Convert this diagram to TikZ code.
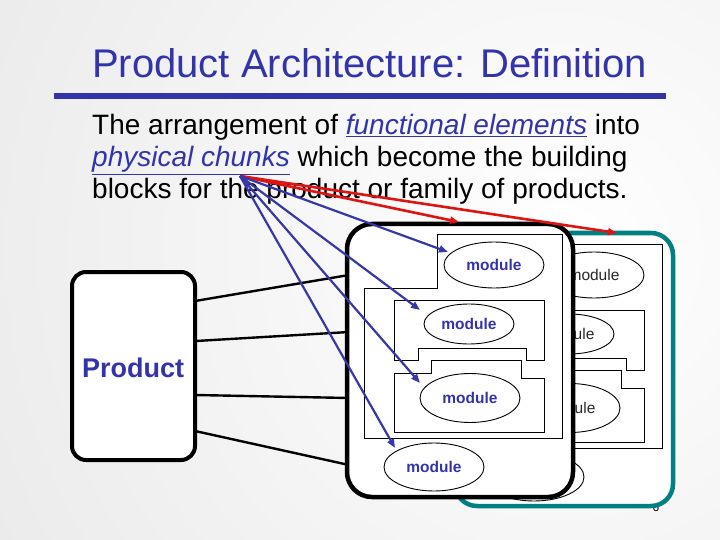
\documentclass[tikz,border=0pt]{standalone}
\usepackage{fontspec}
\setmainfont{Liberation Sans}
\usetikzlibrary{arrows.meta,shapes.geometric}
\definecolor{tblue}{RGB}{51,51,170}
\definecolor{tealc}{RGB}{0,128,128}
\definecolor{ared}{RGB}{220,20,20}
\definecolor{ablue}{RGB}{55,55,165}
\definecolor{bggray}{RGB}{214,214,214}
\definecolor{backtext}{RGB}{40,40,40}
\begin{document}
\begin{tikzpicture}[x=1pt,y=-1pt,
  thinline/.style={draw=black,line width=0.9pt,fill=white},
  modfront/.style={ellipse,draw=black,fill=white,line width=0.9pt,inner sep=0pt,
    font=\fontsize{15.5}{18}\selectfont\bfseries,text=tblue},
  modback/.style={ellipse,draw=black,fill=white,line width=0.9pt,inner sep=0pt,
    font=\fontsize{15.5}{18}\selectfont,text=backtext},
  bigbox/.style={draw=black,line width=4.5pt,fill=white,rounded corners=25pt},
  tealbox/.style={draw=tealc,line width=4.5pt,fill=white,rounded corners=22pt},
  prodbox/.style={draw=black,line width=4pt,fill=white,rounded corners=14pt},
  link/.style={draw=black,line width=2.4pt},
  bluearrow/.style={draw=ablue,line width=2.2pt,-{Triangle[length=9pt,width=7pt]}},
  redarrow/.style={draw=ared,line width=2.6pt,-{Triangle[length=9pt,width=7pt]}},
  bodytext/.style={anchor=base west,inner sep=0pt,font=\fontsize{28}{32}\selectfont}
]
% background
\useasboundingbox (0,0) rectangle (720,540);
\begin{scope}
\clip (0,0) rectangle (720,540);
\shade[inner color=white,outer color=bggray] (560,250) circle (1300);
\end{scope}

% title
\node[anchor=base west,inner sep=0pt,text=tblue,font=\fontsize{40}{48}\selectfont] (title) at (92,78) {Product Architecture: Definition};
\fill[tblue] (54,93) rectangle (666,99);

% body text
\node[bodytext] (l1) at (92,135) {The arrangement of \textcolor{tblue}{\underline{\textit{functional elements}}} into};
\node[bodytext] (l2) at (92,167) {\textcolor{tblue}{\underline{\textit{physical chunks}}} which become the building};
\node[bodytext] (l3) at (92,199) {blocks for the product or family of products.};

% product box
\path[prodbox] (72,272) rectangle (195,460);
\node[anchor=base,inner sep=0pt,text=tblue,font=\fontsize{27}{32}\selectfont\bfseries] (prod) at (133,377) {Product};

% link end points
\coordinate (p1) at (195,301); \coordinate (q1) at (349,275);
\coordinate (p2) at (196,341); \coordinate (q2) at (349,332);
\coordinate (p3) at (195,395); \coordinate (q3) at (349,398);
\coordinate (p4) at (195,431); \coordinate (q4) at (349,465);
\draw[link] (p1) -- (q1);
\draw[link] (p2) -- (q2);
\draw[link] (p3) -- (q3);
\draw[link] (p4) -- (q4);

% page number (mostly hidden)
\node[anchor=base,inner sep=0pt,font=\fontsize{12}{14}\selectfont] (pnum) at (656,511) {6};

% back (teal) layer
\path[tealbox] (455,233) rectangle (673,506);
\begin{scope}[shift={(100,10)}]
\path[thinline] (437,234) -- (562,234) -- (562,438) -- (364,438) -- (364,288) -- (437,288) -- cycle;
\node[modback,minimum width=100pt,minimum height=46pt] (b1) at (494,265) {module};
\path[thinline] (394,300) -- (544,300) -- (544,360) -- (526,360) -- (526,348) -- (418,348) -- (418,360) -- (394,360) -- cycle;
\node[modback,minimum width=90pt,minimum height=40pt] (b2) at (469,324) {module};
\path[thinline] (431,360) -- (521,360) -- (521,378) -- (544,378) -- (544,432) -- (394,432) -- (394,373) -- (431,373) -- cycle;
\node[modback,minimum width=100pt,minimum height=49pt] (b3) at (470,398) {module};
\node[modback,minimum width=100pt,minimum height=48pt] (b4) at (434,467) {module};
\end{scope}

% front layer
\path[bigbox] (347,224) rectangle (573,497);
\path[thinline] (437,234) -- (562,234) -- (562,438) -- (364,438) -- (364,288) -- (437,288) -- cycle;
\node[modfront,minimum width=100pt,minimum height=46pt] (m1) at (494,265) {module};
\path[thinline] (394,300) -- (544,300) -- (544,360) -- (526,360) -- (526,348) -- (418,348) -- (418,360) -- (394,360) -- cycle;
\node[modfront,minimum width=90pt,minimum height=40pt] (m2) at (469,324) {module};
\path[thinline] (431,360) -- (521,360) -- (521,378) -- (544,378) -- (544,432) -- (394,432) -- (394,373) -- (431,373) -- cycle;
\node[modfront,minimum width=100pt,minimum height=49pt] (m3) at (470,398) {module};
\node[modfront,minimum width=100pt,minimum height=48pt] (m4) at (434,467) {module};

% arrows
\coordinate (src) at (240,176);
\coordinate (t1) at (448,252);
\coordinate (t2) at (420,310);
\coordinate (t3) at (420,383);
\coordinate (t4) at (395,448);
\coordinate (r1) at (459,222);
\coordinate (r2) at (617,233);
\draw[redarrow] (src) -- (r1);
\draw[redarrow] (src) -- (r2);
\draw[bluearrow] (src) -- (t1);
\draw[bluearrow] (src) -- (t2);
\draw[bluearrow] (src) -- (t3);
\draw[bluearrow] (src) -- (t4);
\end{tikzpicture}
\end{document}
